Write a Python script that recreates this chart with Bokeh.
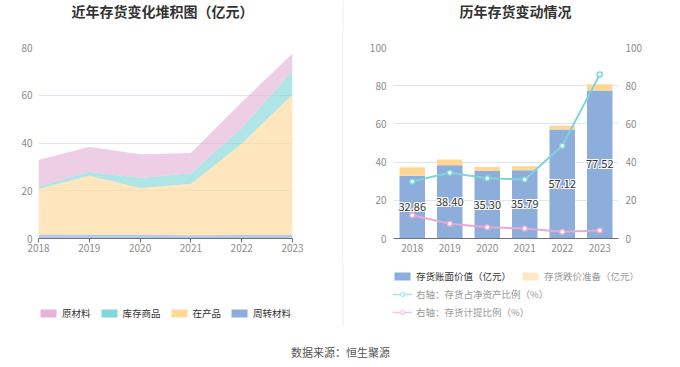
from bokeh.plotting import figure
from bokeh.models import (ColumnDataSource, Range1d, LinearAxis, FixedTicker, Legend,
                          LegendItem, Label, FactorRange, Spacer)
from bokeh.layouts import row, column
from bokeh.embed import file_html
from bokeh.resources import INLINE
from bokeh.core.properties import value

FONT = "Noto Sans CJK SC"

# ---------------- data ----------------
years = ["2018", "2019", "2020", "2021", "2022", "2023"]
years_num = [2018, 2019, 2020, 2021, 2022, 2023]

# left chart (stacked areas, 亿元)
zhouzhuan = [1.7, 1.6, 1.6, 1.4, 1.5, 1.5]          # 周转材料
zaichanpin = [19.0, 24.7, 19.5, 21.4, 38.2, 58.8]   # 在产品
kucun = [1.1, 1.7, 4.2, 4.5, 6.6, 9.9]               # 库存商品
yuancailiao = [11.06, 10.40, 10.00, 8.49, 10.82, 7.32]  # 原材料

# right chart
book_value = [32.86, 38.40, 35.30, 35.79, 57.12, 77.52]   # 存货账面价值
provision = [4.5, 3.0, 2.1, 2.0, 1.9, 3.3]                # 存货跌价准备
ratio_net = [29.9, 34.4, 31.6, 30.9, 48.6, 85.8]          # 存货占净资产比例 %
ratio_prov = [12.2, 7.7, 5.9, 5.2, 3.5, 4.2]              # 存货计提比例 %

left_ticks = [0, 20, 40, 60, 80]
right_ticks = [0, 20, 40, 60, 80, 100]

# ---------------- styles ----------------
PINK = "#E5B3D6"
TEAL = "#84D7D9"
YELLOW = "#FFD99A"
BLUE = "#8DADDD"
BAR_BLUE = "#8DADDB"
BAR_YELLOW = "#FFD794"
LINE_CYAN = "#7ED4D9"
LINE_PINK = "#E6ABD3"
GRID = "#E0E6F1"
AXIS = "#6E7079"
TICK_TXT = "#8C8C8C"
DIVIDER = "#EEEEEE"
HEAD_H = 30
TOP_H = 230
BOT_H = 107


def strip(width, height):
    p = figure(width=width, height=height, x_range=Range1d(0, width), y_range=Range1d(0, height),
               output_backend="svg", toolbar_location=None, min_border=0,
               x_axis_type=None, y_axis_type=None)
    p.grid.visible = False
    p.outline_line_color = None
    return p


def style_common(p):
    p.outline_line_color = None
    p.background_fill_color = "white"
    p.border_fill_color = "white"
    p.xgrid.visible = False
    p.ygrid.grid_line_color = GRID
    p.ygrid.grid_line_width = 1


def style_xaxis(ax, ticks_visible):
    ax.axis_line_color = AXIS
    ax.major_tick_line_color = AXIS if ticks_visible else None
    ax.major_tick_out = 4
    ax.major_tick_in = 0
    ax.minor_tick_line_color = None
    ax.major_label_standoff = 1
    ax.major_label_text_color = TICK_TXT
    ax.major_label_text_font = FONT
    ax.major_label_text_font_size = "10px"


def style_yaxis(ax, ticks, standoff):
    ax.ticker = FixedTicker(ticks=ticks)
    ax.axis_line_color = None
    ax.major_tick_line_color = None
    ax.minor_tick_line_color = None
    ax.major_tick_out = 0
    ax.major_tick_in = 0
    ax.major_label_standoff = standoff
    ax.major_label_text_color = TICK_TXT
    ax.major_label_text_font = FONT
    ax.major_label_text_font_size = "10px"


# ---------------- header strip (titles) ----------------
p0 = strip(680, HEAD_H)
p0.segment(x0=[342.5], y0=[0], x1=[342.5], y1=[HEAD_H], line_color=DIVIDER, line_width=1)
for tx, tt in [(162, "近年存货变化堆积图（亿元）"), (515, "历年存货变动情况")]:
    p0.add_layout(Label(x=tx, y=HEAD_H - 10.5, text=tt, text_align="center",
                        text_baseline="middle", text_font=FONT, text_font_size="14px",
                        text_font_style="bold", text_color="#333333"))

# ---------------- left figure ----------------
p1 = figure(width=342, height=TOP_H, x_range=Range1d(2018, 2023), y_range=Range1d(0, 80),
            output_backend="svg", toolbar_location=None,
            min_border_left=38, min_border_right=50, min_border_top=17, min_border_bottom=22)
style_common(p1)

src1 = ColumnDataSource(dict(year=years_num, zz=zhouzhuan, zcp=zaichanpin, kc=kucun, ycl=yuancailiao))
p1.varea_stack(["zz", "zcp", "kc", "ycl"], x="year", source=src1,
               fill_color=[BLUE, YELLOW, TEAL, PINK], fill_alpha=0.65)

p1.xaxis.ticker = FixedTicker(ticks=years_num)
style_xaxis(p1.xaxis[0], True)
style_yaxis(p1.yaxis[0], left_ticks, 6)

# ---------------- right figure ----------------
p2 = figure(width=337, height=TOP_H, x_range=FactorRange(*years), y_range=Range1d(0, 100),
            output_backend="svg", toolbar_location=None,
            min_border_left=50, min_border_right=62, min_border_top=17, min_border_bottom=22)
style_common(p2)
p2.extra_y_ranges = {"r": Range1d(0, 100)}

src2 = ColumnDataSource(dict(year=years, book=book_value, prov=provision,
                             rn=ratio_net, rp=ratio_prov,
                             mid=[b / 2 for b in book_value],
                             lbl=["%.2f" % b for b in book_value]))
p2.vbar_stack(["book", "prov"], x="year", width=0.68, source=src2,
              fill_color=[BAR_BLUE, BAR_YELLOW], line_color=None)

p2.line("year", "rn", source=src2, y_range_name="r", line_color=LINE_CYAN, line_width=2)
p2.scatter("year", "rn", source=src2, y_range_name="r", size=5, fill_color="white",
           line_color=LINE_CYAN, line_width=1.5)
p2.line("year", "rp", source=src2, y_range_name="r", line_color=LINE_PINK, line_width=2)
p2.scatter("year", "rp", source=src2, y_range_name="r", size=5, fill_color="white",
           line_color=LINE_PINK, line_width=1.5)

for dx, dy in [(-1, 0), (1, 0), (0, -1), (0, 1), (-1, -1), (1, 1), (-1, 1), (1, -1)]:
    p2.text("year", "mid", text="lbl", source=src2, x_offset=dx, y_offset=dy,
            text_color="white", text_font=value(FONT), text_font_size="11px",
            text_align="center", text_baseline="middle")
p2.text("year", "mid", text="lbl", source=src2, text_color="#333333",
        text_font=value(FONT), text_font_size="11px",
        text_align="center", text_baseline="middle")

raxis = LinearAxis(y_range_name="r")
p2.add_layout(raxis, "right")
style_yaxis(p2.yaxis[0], right_ticks, 7)
style_yaxis(raxis, right_ticks, 7)
style_xaxis(p2.xaxis[0], False)

divider = Spacer(width=1, height=TOP_H, styles={"background-color": DIVIDER})

# ---------------- legends + footer strip ----------------
p3 = strip(680, BOT_H)
p3.segment(x0=[342.5], y0=[BOT_H], x1=[342.5], y1=[42], line_color=DIVIDER, line_width=1)

# legend-only renderers: a single point outside the visible range
OUT = [-100]


def swatch(p, color):
    return p.quad(left=OUT, right=OUT, top=OUT, bottom=OUT, fill_color=color, line_color=None)


def make_legend(items, loc, color, spacing=8):
    return Legend(items=items, location=loc, orientation="horizontal",
                  glyph_width=20, glyph_height=10, label_height=12, label_standoff=4,
                  spacing=spacing, padding=0, margin=0,
                  background_fill_alpha=0, border_line_color=None,
                  label_text_font=FONT, label_text_font_size="9.5px",
                  label_text_color=color, label_text_baseline="middle")


sw_pink = swatch(p3, PINK)
sw_teal = swatch(p3, TEAL)
sw_yel = swatch(p3, YELLOW)
sw_blue = swatch(p3, BLUE)
sw_book = swatch(p3, BAR_BLUE)
sw_prov = swatch(p3, "#FFE9C4")
lg_c1 = p3.line(x=OUT * 2, y=OUT * 2, line_color="#A8E3E6", line_width=1.5)
lg_c2 = p3.scatter(x=OUT, y=OUT, size=8, fill_color="white", line_color="#A8E3E6", line_width=1.2)
lg_p1 = p3.line(x=OUT * 2, y=OUT * 2, line_color="#F2C8E3", line_width=1.5)
lg_p2 = p3.scatter(x=OUT, y=OUT, size=8, fill_color="white", line_color="#F2C8E3", line_width=1.2)

legends = [
    make_legend([LegendItem(label="原材料", renderers=[sw_pink]),
                 LegendItem(label="库存商品", renderers=[sw_teal]),
                 LegendItem(label="在产品", renderers=[sw_yel]),
                 LegendItem(label="周转材料", renderers=[sw_blue])], (38, 47), "#333333"),
    make_legend([LegendItem(label="存货账面价值（亿元）", renderers=[sw_book])], (392, 84), "#333333"),
    make_legend([LegendItem(label="存货跌价准备（亿元）", renderers=[sw_prov])], (520, 84), "#999999"),
    make_legend([LegendItem(label="右轴：存货占净资产比例（%）", renderers=[lg_c1, lg_c2])], (392, 66), "#999999"),
    make_legend([LegendItem(label="右轴：存货计提比例（%）", renderers=[lg_p1, lg_p2])], (392, 48), "#999999"),
]
for lg in legends:
    p3.add_layout(lg)

p3.add_layout(Label(x=340, y=16, text="数据来源：恒生聚源", text_align="center",
                    text_baseline="middle", text_font=FONT, text_font_size="11px",
                    text_color="#555555"))

layout = column(p0, row(p1, divider, p2), p3)
open("out.html", "w").write(file_html(layout, INLINE))
